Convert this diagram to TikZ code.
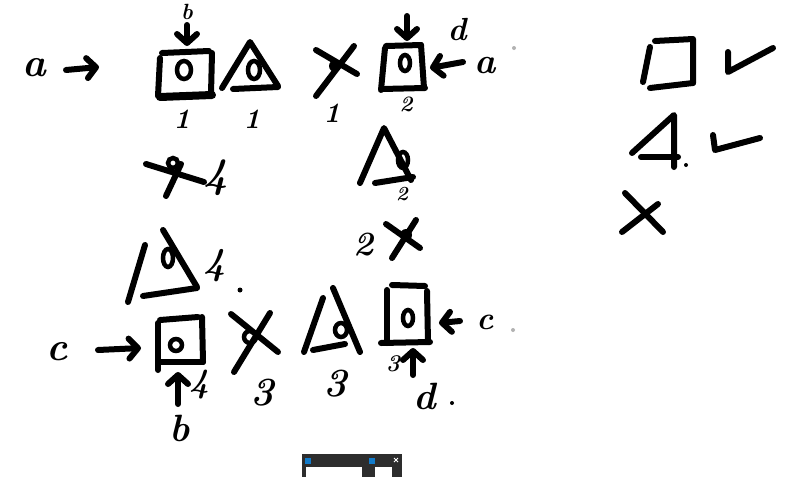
\documentclass[tikz,border=0pt]{standalone}
\usetikzlibrary{arrows.meta}
\begin{document}
\begin{tikzpicture}[x=1pt,y=-1pt,
  ink/.style={line width=6pt,line cap=round,line join=round},
  eye/.style={line width=4.5pt},
  arr/.style={ink,-{Straight Barb[length=9pt,width=20pt,line cap=round,line join=round]}},
  hw/.style={font=\bfseries\itshape\fontsize{#1}{#1}\selectfont,inner sep=0pt},
  hw/.default=30,
  dotmark/.style={fill=gray!60,draw=none}]
\useasboundingbox[fill=white] (0,0) rectangle (788,477);

% ---------- row 1 ----------
\node[hw=40] (la) at (34,68) {a};
\coordinate (a1s) at (66,70); \coordinate (a1e) at (99,67);
\draw[arr] (a1s) -- (a1e);
% box 1
\draw[ink] (162,53) -- (209,51);
\draw[ink] (160,58) -- (158,96);
\draw[ink] (212,53) -- (211,94);
\draw[ink,line width=8pt] (160,97) -- (212,95);
\draw[eye] (184,70) ellipse [x radius=7pt,y radius=9pt];
\node[hw=22] (lb1) at (187,12) {b};
\coordinate (b1s) at (187,25); \coordinate (b1e) at (187,46);
\draw[arr] (b1s) -- (b1e);
\node[hw=28] (n1a) at (182,119) {1};
% triangle 1
\draw[ink] (222,88) -- (250,42) -- (278,86);
\draw[ink] (233,89) -- (278,87);
\draw[eye] (254,70) ellipse [x radius=6pt,y radius=9pt];
\node[hw=28] (n1b) at (252,119) {1};
% X 1
\draw[ink] (316,50) -- (357,74);
\draw[ink] (354,46) -- (316,96);
\fill (335,66) circle [radius=6pt];
\node[hw=28] (n1c) at (332,113) {1};
% box 2
\draw[ink] (385,48) -- (381,90);
\draw[ink] (386,46) -- (421,45);
\draw[ink] (421,45) -- (424,88);
\draw[ink] (382,89) -- (425,88);
\draw[eye] (405,63) ellipse [x radius=5pt,y radius=8pt];
\coordinate (d1s) at (407,16); \coordinate (d1e) at (407,41);
\draw[arr] (d1s) -- (d1e);
\node[hw=32] (ld1) at (457,30) {d};
\coordinate (a2s) at (463,62); \coordinate (a2e) at (430,68);
\draw[arr] (a2s) -- (a2e);
\node[hw=36] (la2) at (485,66) {a};
\node[hw=22] (n2a) at (406,104) {2};
\fill[dotmark] (514,48) circle [radius=2pt];

% ---------- row 2 ----------
% crossed 0 with 4
\draw[ink] (146,164) -- (204,182);
\draw[ink] (181,164) -- (166,196);
\draw[eye] (173,163) circle [radius=5pt];
\node[hw=42] (n4a) at (216,178) {4};
% triangle 2
\draw[ink] (360,183) -- (384,128) -- (411,180);
\draw[ink] (375,183) -- (413,177);
\draw[eye] (403,160) ellipse [x radius=5pt,y radius=8pt];
\node[hw=20] (n2b) at (402,194) {2};
% 2 X
\node[hw=34] (n2c) at (364,245) {2};
\draw[ink] (386,224) -- (420,248);
\draw[ink] (416,220) -- (392,258);
\fill (406,235) circle [radius=6pt];

% triangle 3
\draw[ink] (145,245) -- (128,302);
\draw[ink] (163,230) -- (197,287);
\draw[ink] (143,296) -- (197,288);
\draw[eye] (168,258) ellipse [x radius=5pt,y radius=9pt];
\node[hw=38] (n4b) at (215,266) {4};
\fill (240,290) circle [radius=2.5pt];

% ---------- row 3 ----------
\node[hw=40] (lc) at (57,352) {c};
\coordinate (c1s) at (98,350); \coordinate (c1e) at (141,348);
\draw[arr] (c1s) -- (c1e);
% box 3
\draw[ink] (158,323) -- (158,370);
\draw[ink] (160,320) -- (198,317);
\draw[ink] (202,317) -- (203,362);
\draw[ink] (160,362) -- (203,362);
\draw[eye] (176,345) circle [radius=6pt];
\coordinate (b3s) at (178,404); \coordinate (b3e) at (178,372);
\draw[arr] (b3s) -- (b3e);
\node[hw=34] (n4c) at (200,385) {4};
\node[hw=38] (lb3) at (180,428) {b};
% X 3
\draw[ink] (231,314) -- (278,352);
\draw[ink] (270,313) -- (234,372);
\draw[eye] (250,337) circle [radius=6pt];
\node[hw=40] (n3a) at (262,393) {3};
% triangle 4
\draw[ink] (323,298) -- (304,352);
\draw[ink] (333,288) -- (360,352);
\draw[ink] (313,350) -- (345,344);
\draw[eye] (341,330) ellipse [x radius=6pt,y radius=7pt];
\node[hw=40] (n3b) at (335,384) {3};
% box 4
\draw[ink] (387,290) -- (387,343);
\draw[ink] (392,285) -- (425,286);
\draw[ink] (427,291) -- (428,342);
\draw[ink] (381,343) -- (430,342);
\draw[eye] (408,318) ellipse [x radius=5pt,y radius=8pt];
\coordinate (d3s) at (413,375); \coordinate (d3e) at (413,348);
\draw[arr] (d3s) -- (d3e);
\node[hw=24] (n3c) at (393,364) {3};
\node[hw=38] (ld3) at (425,396) {d};
\fill (452,403) circle [radius=2pt];
\coordinate (c3s) at (460,321); \coordinate (c3e) at (439,323);
\draw[arr] (c3s) -- (c3e);
\node[hw=32] (lc3) at (485,322) {c};
\fill[dotmark] (513,330) circle [radius=2pt];

% ---------- right column ----------
\draw[ink] (650,47) -- (643,82);
\draw[ink] (655,41) -- (693,39) -- (693,83);
\draw[ink] (650,88) -- (693,83);
\draw[ink] (728,52) -- (728,72) -- (773,48);
\draw[ink] (632,153) -- (674,115) -- (674,167);
\draw[ink] (641,157) -- (678,157);
\fill (686,165) circle [radius=2pt];
\draw[ink] (713,135) -- (715,150) -- (760,138);
\draw[ink] (625,193) -- (663,232);
\draw[ink] (658,204) -- (622,232);

% ---------- taskbar preview ----------
\fill[gray!35!black] (302,454) rectangle (402,477);
\fill[cyan!60!blue] (305,458) rectangle (311,464);
\fill[white] (306,467) rectangle (362,477);
\fill[cyan!60!blue] (369,458) rectangle (375,464);
\fill[white] (375,467) rectangle (392,477);
\draw[white,line width=0.8pt] (394,458) -- (398,462) (398,458) -- (394,462);
\end{tikzpicture}
\end{document}
